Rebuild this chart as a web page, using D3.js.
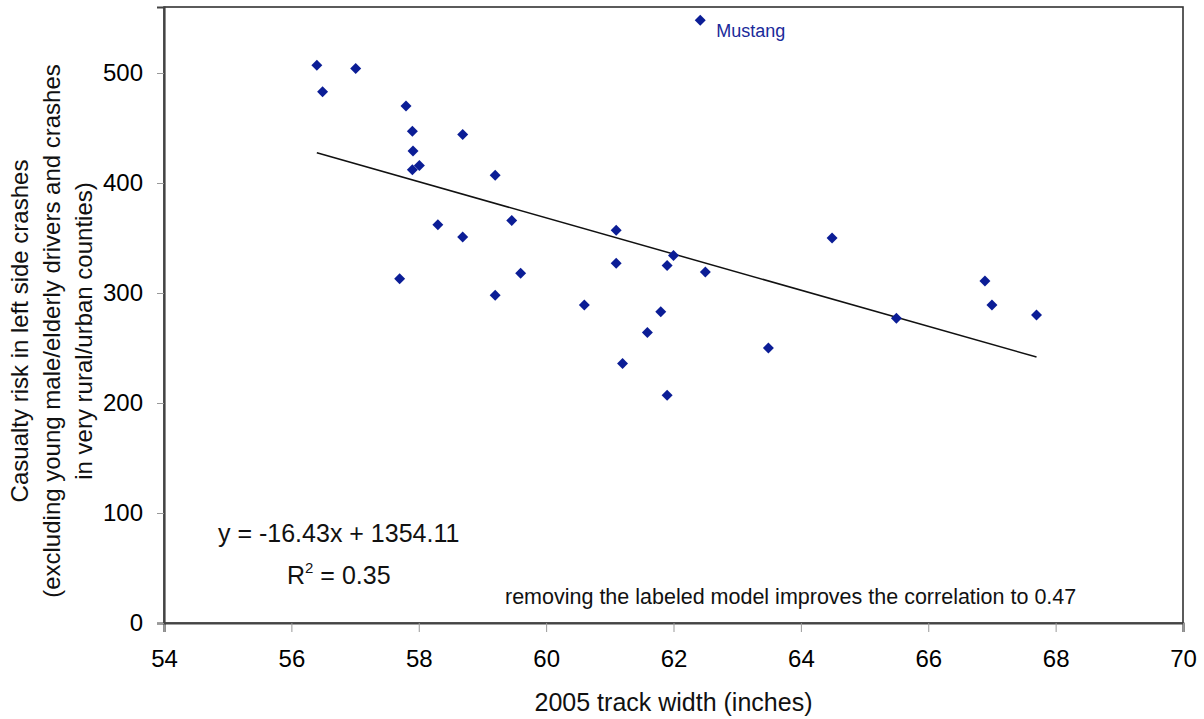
<!DOCTYPE html>
<html><head><meta charset="utf-8">
<script src="https://cdn.jsdelivr.net/npm/d3@7"></script>
<style>body{margin:0;background:#fff}svg{display:block;font-family:"Liberation Sans",Arial,sans-serif}</style>
</head><body>
<script>
const trackWidth = [56.40,57.01,56.49,57.80,57.90,57.91,58.69,57.90,58.01,59.20,58.30,59.46,58.69,57.70,59.60,59.20,
  61.10,62.00,61.10,61.90,62.50,60.60,61.80,61.59,61.20,61.90,63.49,62.42,64.49,66.89,67.00,67.70,65.50];
const casualtyRisk = [507,504,483,470,447,429,444,412,416,407,362,366,351,313,318,298,
  357,334,327,325,319,289,283,264,236,207,250,548,350,311,289,280,277];
const labeledModel = {name:"Mustang", index:27};
const xTicks = [54,56,58,60,62,64,66,68,70];
const yTicks = [0,100,200,300,400,500];
const slope = -16.43, intercept = 1354.11, rSquared = 0.35;

const W=1204,H=719;
const m={l:164,r:21,t:7,b:96};
const svg=d3.select("body").append("svg").attr("width",W).attr("height",H);
const x=d3.scaleLinear().domain([54,70]).range([m.l,W-m.r]);
const y=d3.scaleLinear().domain([0,560]).range([H-m.b,m.t]);
const F="'Liberation Sans',Arial,sans-serif";

// frame
svg.append("rect").attr("x",x(54)).attr("y",y(560)).attr("width",x(70)-x(54)).attr("height",y(0)-y(560))
  .attr("fill","#fff").attr("stroke","#333").attr("stroke-width",1.6);

const xa=svg.append("g").attr("transform",`translate(0,${y(0)})`)
  .call(d3.axisBottom(x).tickValues(xTicks).tickSize(9).tickPadding(18).tickFormat(d3.format("d")));
const ya=svg.append("g").attr("transform",`translate(${x(54)},0)`)
  .call(d3.axisLeft(y).tickValues(yTicks).tickSize(7).tickPadding(14).tickFormat(d3.format("d")));
[xa,ya].forEach(g=>{
  g.select(".domain").attr("stroke","#444").attr("stroke-width",2.2);
  g.selectAll(".tick line").attr("stroke","#999");
  g.selectAll(".tick text").attr("font-size",24).attr("fill","#000").attr("font-family",F);
});

// regression line
const x0=d3.min(trackWidth), x1=d3.max(trackWidth);
svg.append("line").attr("x1",x(x0)).attr("y1",y(slope*x0+intercept))
  .attr("x2",x(x1)).attr("y2",y(slope*x1+intercept)).attr("stroke","#111").attr("stroke-width",1.5);

// points
const data=trackWidth.map((v,i)=>({x:v,y:casualtyRisk[i]}));
svg.append("g").selectAll("path").data(data).join("path")
  .attr("d",d3.symbol(d3.symbolSquare,60))
  .attr("transform",d=>`translate(${x(d.x)},${y(d.y)}) rotate(45)`)
  .attr("fill","#0b1d96");

// label
const lm=data[labeledModel.index];
svg.append("text").attr("x",x(lm.x)+16).attr("y",y(lm.y)+17).attr("font-size",18)
  .attr("fill","#1a2a9a").text(labeledModel.name);

// equation
svg.append("text").attr("x",218).attr("y",542).attr("font-size",25).attr("fill","#111")
  .text(`y = ${slope.toFixed(2)}x + ${intercept.toFixed(2)}`);
const r=svg.append("text").attr("x",287).attr("y",584).attr("font-size",25).attr("fill","#111");
r.append("tspan").text("R");
r.append("tspan").attr("font-size",15).attr("dy",-11).text("2");
r.append("tspan").attr("dy",11).text(` = ${rSquared.toFixed(2)}`);

svg.append("text").attr("x",505).attr("y",604).attr("font-size",21.5).attr("fill","#111")
  .text("removing the labeled model improves the correlation to 0.47");

// axis titles
svg.append("text").attr("x",(x(54)+x(70))/2).attr("y",711).attr("text-anchor","middle")
  .attr("font-size",25).attr("fill","#111").text("2005 track width (inches)");
const yt=["Casualty risk in left side crashes","(excluding young male/elderly drivers and crashes","in very rural/urban counties)"];
svg.append("g").attr("transform",`translate(0,${331}) rotate(-90)`).selectAll("text").data(yt).join("text")
  .attr("x",0).attr("y",(d,i)=>28+i*32).attr("text-anchor","middle").attr("font-size",24).attr("fill","#111").text(d=>d);
</script>
</body></html>
